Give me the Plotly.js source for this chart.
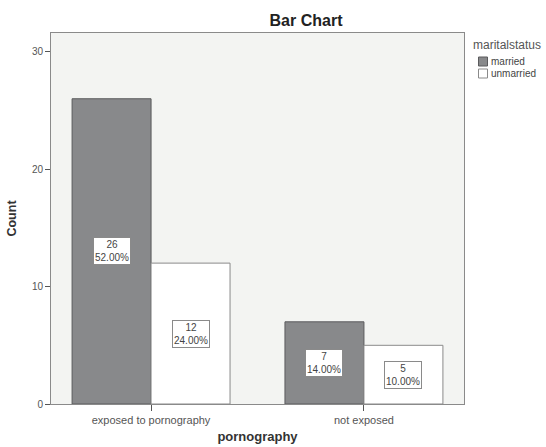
<!DOCTYPE html>
<html>
<head>
<meta charset="utf-8">
<script src="https://cdn.plot.ly/plotly-3.0.1.min.js"></script>
<style>html,body{margin:0;padding:0;background:#fff;}#chart{width:546px;height:447px;}</style>
</head>
<body>
<div id="chart"></div>
<script>
var categories = ["exposed to pornography", "not exposed"];
var seriesNames = ["married", "unmarried"];
var marriedCounts = [26, 7];
var unmarriedCounts = [12, 5];
var marriedPct = ["52.00%", "14.00%"];
var unmarriedPct = ["24.00%", "10.00%"];
var yTicks = [0, 10, 20, 30];
var legendTitle = "maritalstatus";

var FONT = "Arial, Liberation Sans, sans-serif";
var fills = ["#88898b", "#ffffff"];
var borders = ["#5a5a5c", "#8a8a8a"];
var allCounts = [marriedCounts, unmarriedCounts];
var allPct = [marriedPct, unmarriedPct];

// plot-area geometry (pixels)
var M = { l: 51, r: 82, t: 33, b: 43 };
var W = 546, H = 447;
var pw = W - M.l - M.r, ph = H - M.t - M.b;
function px2x(px) { return (px - M.l) / pw; }
function py2y(py) { return (H - M.b - py) / ph; }

var traces = seriesNames.map(function (name, s) {
  return {
    type: "bar",
    name: name,
    x: categories,
    y: allCounts[s],
    marker: { color: fills[s], line: { color: borders[s], width: 1 } },
    hoverinfo: "skip",
    showlegend: false
  };
});

var groupWidth = 0.742;
var annotations = [];
seriesNames.forEach(function (name, s) {
  categories.forEach(function (c, i) {
    var offset = (s - 0.5) * groupWidth / 2;
    annotations.push({
      x: i + offset,
      y: allCounts[s][i] / 2,
      xref: "x",
      yref: "y",
      text: allCounts[s][i] + "<br>" + allPct[s][i],
      showarrow: false,
      font: { family: FONT, size: 10, color: "#444" },
      bgcolor: "#ffffff",
      bordercolor: "#8a8a8a",
      borderwidth: 1,
      borderpad: 1
    });
  });
});

// custom legend (kept outside the plot without pushing the margin)
var shapes = [];
annotations.push({
  xref: "paper", yref: "paper",
  x: px2x(471), y: py2y(45),
  xanchor: "left", yanchor: "middle",
  text: legendTitle, showarrow: false,
  font: { family: FONT, size: 12, color: "#555" }
});
var rowY = [61.5, 73.5];
seriesNames.forEach(function (name, s) {
  shapes.push({
    type: "rect", xref: "paper", yref: "paper",
    x0: px2x(478.5), x1: px2x(487.5),
    y0: py2y(rowY[s] - 4.5), y1: py2y(rowY[s] + 4.5),
    fillcolor: fills[s],
    line: { color: borders[s], width: 1 }
  });
  annotations.push({
    xref: "paper", yref: "paper",
    x: px2x(488.5), y: py2y(rowY[s]),
    xanchor: "left", yanchor: "middle",
    text: name, showarrow: false,
    font: { family: FONT, size: 10, color: "#444" }
  });
});

var layout = {
  width: W,
  height: H,
  margin: M,
  paper_bgcolor: "#ffffff",
  plot_bgcolor: "#f3f4f2",
  barmode: "group",
  bargap: 1 - groupWidth,
  bargroupgap: 0,
  showlegend: false,
  title: {
    text: "<b>Bar Chart</b>",
    x: 306 / W,
    xanchor: "center",
    y: 1 - 20 / H,
    yanchor: "middle",
    font: { family: FONT, size: 16, color: "#222" }
  },
  xaxis: {
    type: "category",
    range: [-0.47, 1.47],
    showgrid: false,
    zeroline: false,
    showline: true,
    linecolor: "#8a8a8a",
    mirror: true,
    ticks: "outside",
    ticklen: 6,
    tickcolor: "#555",
    tickfont: { family: FONT, size: 11, color: "#555" },
    title: { text: "<b>pornography</b>", standoff: 6, font: { family: FONT, size: 13, color: "#333" } }
  },
  yaxis: {
    range: [0, 31.6],
    tickvals: yTicks,
    showgrid: false,
    zeroline: false,
    showline: true,
    linecolor: "#8a8a8a",
    mirror: true,
    ticks: "outside",
    ticklen: 5,
    tickcolor: "#555",
    tickfont: { family: FONT, size: 10, color: "#555" },
    title: { text: "<b>Count</b>", standoff: 12, font: { family: FONT, size: 12.5, color: "#333" } }
  },
  shapes: shapes,
  annotations: annotations
};

Plotly.newPlot("chart", traces, layout, { staticPlot: true, displayModeBar: false });
</script>
</body>
</html>
